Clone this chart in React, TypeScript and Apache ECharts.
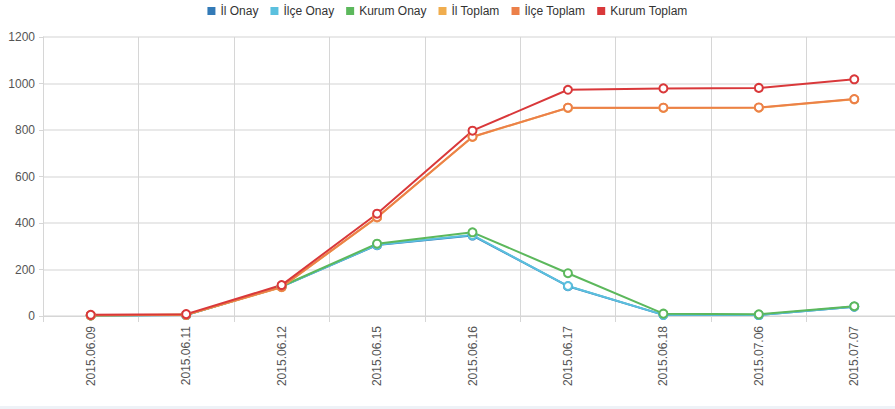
import React, { useEffect, useRef } from "react";
import * as echarts from "echarts";

const categories = ["2015.06.09", "2015.06.11", "2015.06.12", "2015.06.15", "2015.06.16", "2015.06.17", "2015.06.18", "2015.07.06", "2015.07.07"];
const ilOnay = [2, 4, 126, 305, 346, 128, 5, 4, 40];
const ilceOnay = [2, 4, 126, 306, 348, 129, 5, 4, 40];
const kurumOnay = [2, 5, 128, 311, 360, 184, 10, 7, 42];
const ilToplam = [3, 5, 124, 424, 770, 895, 895, 896, 932];
const ilceToplam = [3, 5, 125, 425, 771, 896, 896, 897, 933];
const kurumToplam = [5, 8, 133, 440, 797, 973, 979, 981, 1018];
const yTicks = [0, 200, 400, 600, 800, 1000, 1200];

const seriesDefs = [
  { name: "İl Onay", data: ilOnay, color: "#337ab7" },
  { name: "İlçe Onay", data: ilceOnay, color: "#5bc0de" },
  { name: "Kurum Onay", data: kurumOnay, color: "#5cb85c" },
  { name: "İl Toplam", data: ilToplam, color: "#f0ad4e" },
  { name: "İlçe Toplam", data: ilceToplam, color: "#ec8049" },
  { name: "Kurum Toplam", data: kurumToplam, color: "#d9383a" },
];

export default function App() {
  const ref = useRef<HTMLDivElement>(null);
  useEffect(() => {
    document.body.style.margin = "0";
    document.body.style.overflow = "hidden";
    const chart = echarts.init(ref.current!, null, { renderer: "svg" });
    chart.setOption({
      animation: false,
      backgroundColor: "#fff",
      textStyle: { fontFamily: "Arial, 'Liberation Sans', sans-serif" },
      legend: {
        top: 0,
        left: "center",
        itemWidth: 8,
        itemHeight: 8,
        itemGap: 12,
        icon: "rect",
        textStyle: { fontSize: 12, color: "#333" },
        data: seriesDefs.map((s) => s.name),
      },
      grid: { left: 43, width: 859, top: 37, bottom: 93, outerBoundsMode: "none", containLabel: false },
      xAxis: {
        type: "category",
        boundaryGap: true,
        data: categories,
        axisLine: { lineStyle: { color: "#d6d6d6" } },
        axisTick: { show: true, length: 6, lineStyle: { color: "#d6d6d6" } },
        splitLine: { show: true, lineStyle: { color: "#d6d6d6" } },
        axisLabel: { rotate: 90, color: "#555", fontSize: 12, margin: 10 },
      },
      yAxis: {
        type: "value",
        min: 0,
        max: yTicks[yTicks.length - 1],
        interval: 200,
        axisLine: { show: true, lineStyle: { color: "#d6d6d6" } },
        axisTick: { show: true, length: 4, lineStyle: { color: "#d6d6d6" } },
        splitLine: { lineStyle: { color: "#e2e2e2", width: 1.5 } },
        axisLabel: { color: "#555", fontSize: 12, margin: 8, formatter: (v: number) => String(v) },
      },
      graphic: [
        { type: "rect", left: 0, bottom: 0, shape: { width: 895, height: 3 }, style: { fill: "#eef2f7" } },
      ],
      series: seriesDefs.map((s) => ({
        name: s.name,
        type: "line",
        data: s.data,
        symbol: "emptyCircle",
        symbolSize: 8,
        showAllSymbol: true,
        lineStyle: { width: 2, color: s.color },
        itemStyle: { color: s.color, borderWidth: 2 },
      })),
    });
    return () => chart.dispose();
  }, []);
  return <div ref={ref} style={{ width: 895, height: 409 }} />;
}
